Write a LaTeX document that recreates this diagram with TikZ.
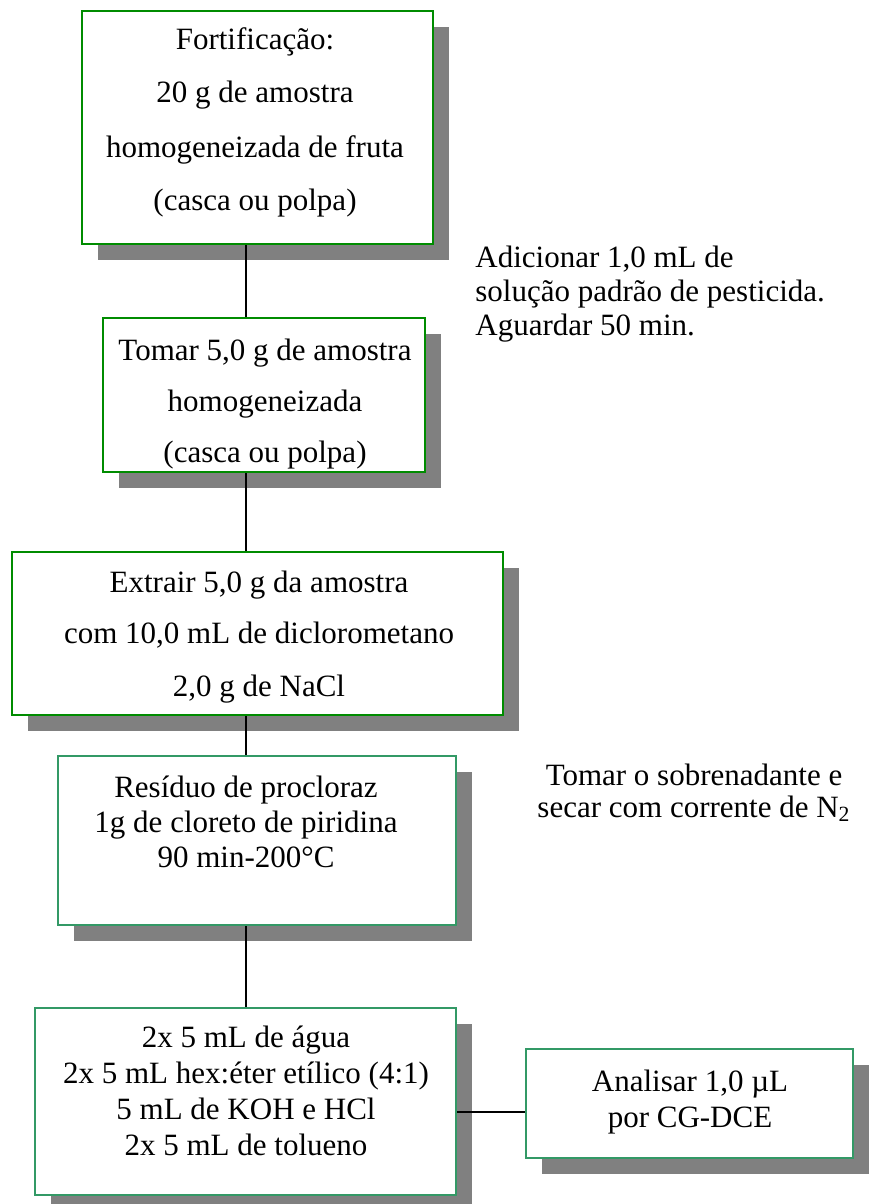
\documentclass[tikz,border=0pt]{standalone}
\usepackage{fontspec}
\setmainfont{Liberation Serif}
\usetikzlibrary{shadows}
\definecolor{boxgreen}{RGB}{0,140,0}
\definecolor{boxteal}{RGB}{51,153,102}
\definecolor{shadowgray}{RGB}{128,128,128}
\tikzset{
  stepbox/.style={draw=boxgreen, line width=1pt, fill=white, inner sep=0pt,
    drop shadow={shadow xshift=8pt, shadow yshift=-8pt, fill=shadowgray, opacity=1}},
  stepboxb/.style={stepbox, draw=boxteal},
  txt/.style={inner sep=0pt, anchor=base, font=\fontsize{15.5}{18}\selectfont},
  txtl/.style={txt, anchor=base west},
  link/.style={draw=black, line width=0.6pt}
}
\begin{document}
\begin{tikzpicture}[x=0.5pt, y=-0.5pt]
\useasboundingbox (0,0) rectangle (869,1204);
\coordinate (axis) at (246,0);
% boxes
\node[stepbox, minimum width=175.5pt, minimum height=116.5pt] (b1) at (257.5,127.5) {};
\node[stepbox, minimum width=161pt, minimum height=77pt] (b2) at (264,395) {};
\node[stepbox, minimum width=245.5pt, minimum height=81.5pt] (b3) at (257.5,633.5) {};
\node[stepboxb, minimum width=199pt, minimum height=84.5pt] (b4) at (257,840.5) {};
\node[stepboxb, minimum width=210.5pt, minimum height=93.5pt] (b5) at (245.5,1101.5) {};
\node[stepboxb, minimum width=163.5pt, minimum height=54.5pt] (b6) at (689.5,1103.5) {};
% connectors
\draw[link] (b1.south -| axis) -- (b2.north -| axis);
\draw[link] (b2.south -| axis) -- (b3.north -| axis);
\draw[link] (b3.south -| axis) -- (b4.north -| axis);
\draw[link] (b4.south -| axis) -- (b5.north -| axis);
\coordinate (hy) at (0,1112);
\draw[link] (b5.east |- hy) -- (b6.west |- hy);
% box 1 text
\node[txt] (t1a) at (255,50) {Fortificação:};
\node[txt] (t1b) at (255,103) {20 g de amostra};
\node[txt] (t1c) at (255,157) {homogeneizada de fruta};
\node[txt] (t1d) at (255,210) {(casca ou polpa)};
% side text 1
\node[txtl] (s1a) at (475,267) {Adicionar 1,0 mL de};
\node[txtl] (s1b) at (475,301) {solução padrão de pesticida.};
\node[txtl] (s1c) at (475,335) {Aguardar 50 min.};
% box 2 text
\node[txt] (t2a) at (265,360) {Tomar 5,0 g de amostra};
\node[txt] (t2b) at (265,411) {homogeneizada};
\node[txt] (t2c) at (265,462) {(casca ou polpa)};
% box 3 text
\node[txt] (t3a) at (259,592) {Extrair 5,0 g da amostra};
\node[txt] (t3b) at (259,643) {com 10,0 mL de diclorometano};
\node[txt] (t3c) at (259,696) {2,0 g de NaCl};
% side text 2
\node[txt] (s2a) at (694,785) {Tomar o sobrenadante e};
\node[txt] (s2b) at (694,817) {secar com corrente de N\textsubscript{2}};
% box 4 text
\node[txt] (t4a) at (246,797) {Resíduo de procloraz};
\node[txt] (t4b) at (246,832) {1g de cloreto de piridina};
\node[txt] (t4c) at (246,867) {90 min-200°C};
% box 5 text
\node[txt] (t5a) at (246,1047) {2x 5 mL de água};
\node[txt] (t5b) at (246,1083) {2x 5 mL hex:éter etílico (4:1)};
\node[txt] (t5c) at (246,1119) {5 mL de KOH e HCl};
\node[txt] (t5d) at (246,1155) {2x 5 mL de tolueno};
% box 6 text
\node[txt] (t6a) at (690,1091) {Analisar 1,0 µL};
\node[txt] (t6b) at (690,1127) {por CG-DCE};
\end{tikzpicture}
\end{document}
